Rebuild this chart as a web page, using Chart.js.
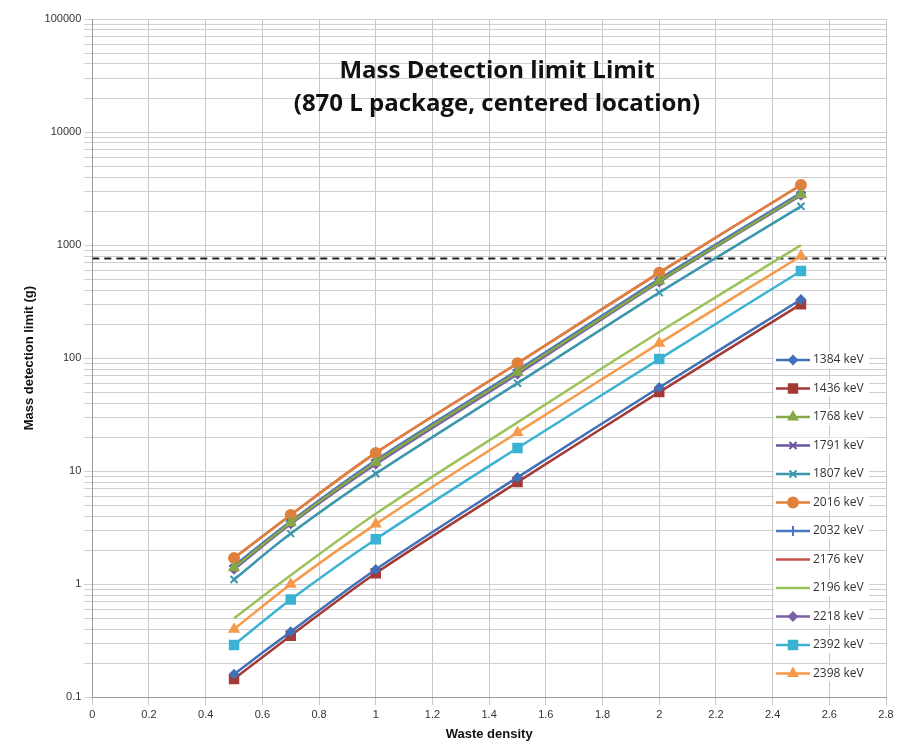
<!DOCTYPE html>
<html><head><meta charset="utf-8">
<script src="https://cdn.jsdelivr.net/npm/chart.js@4"></script>
<style>html,body{margin:0;background:#fff}#wrap{width:902px;height:746px}</style>
</head><body><div id="wrap"><canvas id="c"></canvas></div>
<script>
var density = [0.5, 0.7, 1, 1.5, 2, 2.5];
var s1384 = [0.16, 0.38, 1.35, 8.8, 55, 330];
var s1436 = [0.145, 0.35, 1.25, 8, 50, 300];
var s1768 = [1.4, 3.5, 12, 75, 480, 2800];
var s1791 = [1.4, 3.5, 12, 75, 480, 2800];
var s1807 = [1.1, 2.8, 9.5, 60, 380, 2200];
var s2016 = [1.7, 4.1, 14.5, 90, 570, 3400];
var s2032 = [1.45, 3.6, 12.5, 78, 500, 2900];
var s2176 = [1.7, 4.1, 14.5, 90, 570, 3400];
var s2196 = [0.5, 1.2, 4.2, 27, 170, 1000];
var s2218 = [1.35, 3.4, 11.5, 72, 470, 2750];
var s2392 = [0.29, 0.73, 2.5, 16, 98, 590];
var s2398 = [0.4, 1.0, 3.4, 22, 135, 800];
var limitLine = 760;
var xTicks = [0, 0.2, 0.4, 0.6, 0.8, 1, 1.2, 1.4, 1.6, 1.8, 2, 2.2, 2.4, 2.6, 2.8];

var defs = [
  ['1384 keV', s1384, '#4170b8', 'rectRot', 4],
  ['1436 keV', s1436, '#a33a36', 'rect', 6],
  ['1768 keV', s1768, '#86a845', 'triangle', 5],
  ['1791 keV', s1791, '#6b55a0', 'crossRot', 5],
  ['1807 keV', s1807, '#3b97ad', 'crossRot', 5],
  ['2016 keV', s2016, '#e0803c', 'circle', 5],
  ['2032 keV', s2032, '#4a78c0', 'cross', 5],
  ['2176 keV', s2176, '#c8504b', false, 0],
  ['2196 keV', s2196, '#9bc35a', false, 0],
  ['2218 keV', s2218, '#7d5ea8', 'rectRot', 4],
  ['2392 keV', s2392, '#3cb2d3', 'rect', 6],
  ['2398 keV', s2398, '#f7994a', 'triangle', 5]
];
var datasets = defs.map(function(d) {
  return {
    label: d[0],
    data: density.map(function(x, i) { return {x: x, y: d[1][i]}; }),
    borderColor: d[2], backgroundColor: d[2],
    borderWidth: 2.5, tension: 0.3,
    pointStyle: d[3] || 'circle', pointRadius: d[3] ? d[4] : 0,
    pointBorderWidth: 2
  };
});
datasets.push({
  label: 'limit',
  data: [{x: 0, y: limitLine}, {x: 2.8, y: limitLine}],
  borderColor: '#222', borderDash: [7, 5], borderWidth: 2, pointRadius: 0
});

var overlay = {
  id: 'overlay',
  afterDraw: function(chart) {
    var c = chart.ctx;
    c.save();
    c.fillStyle = '#111';
    c.textAlign = 'center';
    c.font = 'bold 24px "Open Sans", sans-serif';
    c.fillText('Mass Detection limit Limit', 497, 78);
    c.fillText('(870 L package, centered location)', 497, 111);
    c.textAlign = 'left';
    c.textBaseline = 'middle';
    c.font = '12px "Open Sans", sans-serif';
    defs.forEach(function(d, i) {
      var y = 360 + i * 28.5, x0 = 776, x1 = 810;
      c.fillStyle = '#fff';
      c.fillRect(x0 - 2, y - 8, 95, 16);
      c.strokeStyle = d[2]; c.lineWidth = 2.5;
      c.beginPath(); c.moveTo(x0, y); c.lineTo(x1, y); c.stroke();
      if (d[3]) {
        c.fillStyle = d[2]; c.lineWidth = 2;
        Chart.helpers.drawPoint(c, {pointStyle: d[3], radius: d[4], borderWidth: 2}, (x0 + x1) / 2, y);
      }
      c.fillStyle = '#333';
      c.fillText(d[0], x1 + 3, y);
    });
    c.restore();
  }
};

new Chart(document.getElementById('c'), {
  type: 'line',
  data: {datasets: datasets},
  plugins: [overlay],
  options: {
    responsive: true, maintainAspectRatio: false, animation: false,
    layout: {padding: {left: 18, right: 16, top: 19, bottom: 0}},
    plugins: {legend: {display: false}, tooltip: {enabled: false}},
    scales: {
      x: {
        type: 'linear', min: 0, max: 2.8,
        afterBuildTicks: function(ax) { ax.ticks = xTicks.map(function(v) { return {value: v}; }); },
        ticks: {color: '#333', font: {size: 11}, callback: function(v) { return String(Math.round(v * 10) / 10); }},
        grid: {color: '#c8c8c8'},
        border: {color: '#999'},
        title: {display: true, text: 'Waste density', color: '#111', font: {size: 13, weight: 'bold'}, padding: {top: 2}}
      },
      y: {
        type: 'logarithmic', min: 0.1, max: 100000,
        afterBuildTicks: function(ax) {
          var t = [];
          for (var e = -1; e < 5; e++) for (var m = 1; m < 10; m++) t.push({value: m * Math.pow(10, e)});
          t.push({value: 100000});
          ax.ticks = t;
        },
        ticks: {color: '#333', font: {size: 11}, autoSkip: false,
          callback: function(v) {
            var l = Math.log10(v);
            if (Math.abs(l - Math.round(l)) > 1e-6) return '';
            return v < 1 ? '0.1' : String(Math.round(v));
          }},
        grid: {color: '#cfcfcf'},
        border: {color: '#999'},
        title: {display: true, text: 'Mass detection limit (g)', color: '#111', font: {size: 13, weight: 'bold'}}
      }
    }
  }
});
</script></body></html>
